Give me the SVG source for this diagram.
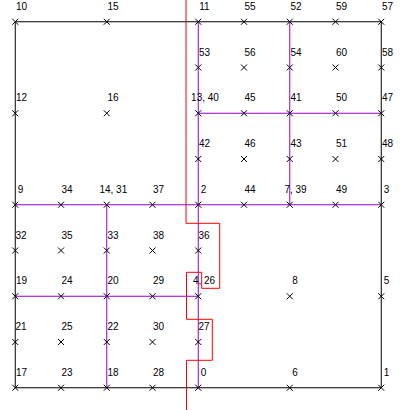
<svg xmlns="http://www.w3.org/2000/svg" width="400" height="410" viewBox="0 0 400 410">
<style>
.b{stroke:#000;stroke-width:1;fill:none}
.p{stroke:#9400D3;stroke-width:1;fill:none}
.r{stroke:#FF0000;stroke-width:1;fill:none}
.x{stroke:#000;stroke-width:1;fill:none}
text{font-family:"Liberation Sans",Arial,sans-serif;font-size:10px;fill:#000;text-anchor:middle}
</style>
<defs>
<path id="cr" class="x" d="M-3,-3L3,3M-3,3L3,-3"/>
</defs>
<rect width="400" height="410" fill="#fff"/>
<g id="connectors">
<path class="b" d="M15.25,21.75H381.25V387.75H15.25Z"/>
<path class="p" d="M198.25,21.75V387.75"/>
<path class="p" d="M289.75,21.75V204.75"/>
<path class="p" d="M198.25,113.25H381.25"/>
<path class="p" d="M15.25,204.75H381.25"/>
<path class="p" d="M106.75,204.75V387.75"/>
<path class="p" d="M15.25,296.25H198.25"/>
<path class="r" d="M186,0V223.3H219.7V288.3H201.7V272.3H186.5V319.3H212.3V360.3H186.5V410"/>
</g>
<g id="n10"><use href="#cr" x="15.25" y="21.75"/><text x="21.5" y="9.75">10</text></g>
<g id="n15"><use href="#cr" x="106.75" y="21.75"/><text x="113" y="9.75">15</text></g>
<g id="n11"><use href="#cr" x="198.25" y="21.75"/><text x="204.5" y="9.75">11</text></g>
<g id="n55"><use href="#cr" x="244" y="21.75"/><text x="250" y="9.75">55</text></g>
<g id="n52"><use href="#cr" x="289.75" y="21.75"/><text x="296" y="9.75">52</text></g>
<g id="n59"><use href="#cr" x="335.5" y="21.75"/><text x="341.5" y="9.75">59</text></g>
<g id="n57"><use href="#cr" x="381.25" y="21.75"/><text x="387.5" y="9.75">57</text></g>

<g id="n53"><use href="#cr" x="198.25" y="67.5"/><text x="204.5" y="55.5">53</text></g>
<g id="n56"><use href="#cr" x="244" y="67.5"/><text x="250" y="55.5">56</text></g>
<g id="n54"><use href="#cr" x="289.75" y="67.5"/><text x="296" y="55.5">54</text></g>
<g id="n60"><use href="#cr" x="335.5" y="67.5"/><text x="341.5" y="55.5">60</text></g>
<g id="n58"><use href="#cr" x="381.25" y="67.5"/><text x="387.5" y="55.5">58</text></g>

<g id="n12"><use href="#cr" x="15.25" y="113.25"/><text x="21.5" y="101.25">12</text></g>
<g id="n16"><use href="#cr" x="106.75" y="113.25"/><text x="113" y="101.25">16</text></g>
<g id="n13_40"><use href="#cr" x="198.25" y="113.25"/><text x="205" y="101.25">13, 40</text></g>
<g id="n45"><use href="#cr" x="244" y="113.25"/><text x="250" y="101.25">45</text></g>
<g id="n41"><use href="#cr" x="289.75" y="113.25"/><text x="296" y="101.25">41</text></g>
<g id="n50"><use href="#cr" x="335.5" y="113.25"/><text x="341.5" y="101.25">50</text></g>
<g id="n47"><use href="#cr" x="381.25" y="113.25"/><text x="387.5" y="101.25">47</text></g>

<g id="n42"><use href="#cr" x="198.25" y="159"/><text x="204.5" y="147">42</text></g>
<g id="n46"><use href="#cr" x="244" y="159"/><text x="250" y="147">46</text></g>
<g id="n43"><use href="#cr" x="289.75" y="159"/><text x="296" y="147">43</text></g>
<g id="n51"><use href="#cr" x="335.5" y="159"/><text x="341.5" y="147">51</text></g>
<g id="n48"><use href="#cr" x="381.25" y="159"/><text x="387.5" y="147">48</text></g>

<g id="n9"><use href="#cr" x="15.25" y="204.75"/><text x="20.5" y="192.75">9</text></g>
<g id="n34"><use href="#cr" x="61" y="204.75"/><text x="67" y="192.75">34</text></g>
<g id="n14_31"><use href="#cr" x="106.75" y="204.75"/><text x="113.3" y="192.75">14, 31</text></g>
<g id="n37"><use href="#cr" x="152.5" y="204.75"/><text x="158.5" y="192.75">37</text></g>
<g id="n2"><use href="#cr" x="198.25" y="204.75"/><text x="203.5" y="192.75">2</text></g>
<g id="n44"><use href="#cr" x="244" y="204.75"/><text x="250" y="192.75">44</text></g>
<g id="n7_39"><use href="#cr" x="289.75" y="204.75"/><text x="295.5" y="192.75">7, 39</text></g>
<g id="n49"><use href="#cr" x="335.5" y="204.75"/><text x="341.5" y="192.75">49</text></g>
<g id="n3"><use href="#cr" x="381.25" y="204.75"/><text x="386.5" y="192.75">3</text></g>

<g id="n32"><use href="#cr" x="15.25" y="250.5"/><text x="21" y="238.5">32</text></g>
<g id="n35"><use href="#cr" x="61" y="250.5"/><text x="67" y="238.5">35</text></g>
<g id="n33"><use href="#cr" x="106.75" y="250.5"/><text x="113" y="238.5">33</text></g>
<g id="n38"><use href="#cr" x="152.5" y="250.5"/><text x="158.5" y="238.5">38</text></g>
<g id="n36"><use href="#cr" x="198.25" y="250.5"/><text x="204" y="238.5">36</text></g>

<g id="n19"><use href="#cr" x="15.25" y="296.25"/><text x="21.5" y="284.25">19</text></g>
<g id="n24"><use href="#cr" x="61" y="296.25"/><text x="67" y="284.25">24</text></g>
<g id="n20"><use href="#cr" x="106.75" y="296.25"/><text x="113" y="284.25">20</text></g>
<g id="n29"><use href="#cr" x="152.5" y="296.25"/><text x="158.5" y="284.25">29</text></g>
<g id="n4_26"><use href="#cr" x="198.25" y="296.25"/><text x="204" y="284.25">4, 26</text></g>
<g id="n8"><use href="#cr" x="289.75" y="296.25"/><text x="295" y="284.25">8</text></g>
<g id="n5"><use href="#cr" x="381.25" y="296.25"/><text x="386.5" y="284.25">5</text></g>

<g id="n21"><use href="#cr" x="15.25" y="342"/><text x="21" y="330">21</text></g>
<g id="n25"><use href="#cr" x="61" y="342"/><text x="67" y="330">25</text></g>
<g id="n22"><use href="#cr" x="106.75" y="342"/><text x="113" y="330">22</text></g>
<g id="n30"><use href="#cr" x="152.5" y="342"/><text x="158.5" y="330">30</text></g>
<g id="n27"><use href="#cr" x="198.25" y="342"/><text x="204" y="330">27</text></g>

<g id="n17"><use href="#cr" x="15.25" y="387.75"/><text x="21.5" y="375.75">17</text></g>
<g id="n23"><use href="#cr" x="61" y="387.75"/><text x="67" y="375.75">23</text></g>
<g id="n18"><use href="#cr" x="106.75" y="387.75"/><text x="113" y="375.75">18</text></g>
<g id="n28"><use href="#cr" x="152.5" y="387.75"/><text x="158.5" y="375.75">28</text></g>
<g id="n0"><use href="#cr" x="198.25" y="387.75"/><text x="203.5" y="375.75">0</text></g>
<g id="n6"><use href="#cr" x="289.75" y="387.75"/><text x="295" y="375.75">6</text></g>
<g id="n1"><use href="#cr" x="381.25" y="387.75"/><text x="386.5" y="375.75">1</text></g>
</svg>
